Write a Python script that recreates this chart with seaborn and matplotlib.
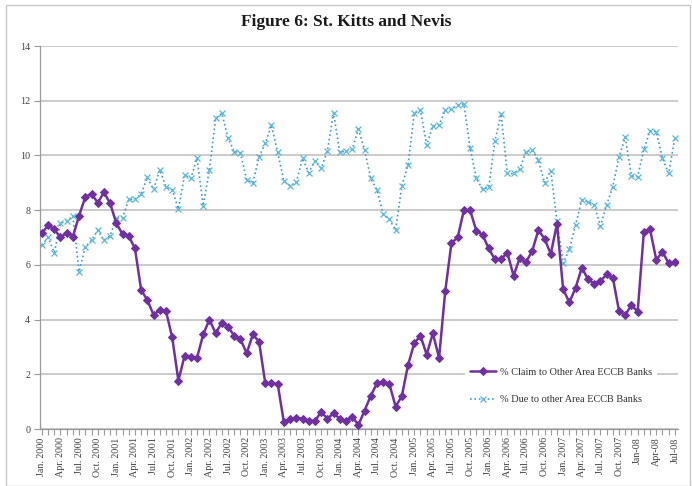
import matplotlib
matplotlib.use("Agg")
import matplotlib.pyplot as plt
from matplotlib.patches import Rectangle
import numpy as np
import pandas as pd
import seaborn as sns

# Monthly shares, Jan. 2000 through Jul. 2008
claim_other_eccb = [
    7.15, 7.45, 7.30, 7.00, 7.18, 7.03, 7.80, 8.48, 8.60, 8.27, 8.65, 8.25,
    7.52, 7.12, 7.05, 6.60, 5.08, 4.71, 4.17, 4.36, 4.31, 3.35, 1.77, 2.68,
    2.65, 2.60, 3.46, 4.00, 3.50, 3.89, 3.74, 3.40, 3.28, 2.77, 3.46, 3.19,
    1.67, 1.67, 1.64, 0.24, 0.37, 0.41, 0.38, 0.29, 0.29, 0.63, 0.38, 0.57,
    0.38, 0.29, 0.45, 0.15, 0.67, 1.22, 1.67, 1.73, 1.64, 0.82, 1.20, 2.34,
    3.13, 3.41, 2.72, 3.50, 2.60, 5.05, 6.80, 7.00, 8.00, 8.00, 7.25, 7.10,
    6.60, 6.20, 6.20, 6.45, 5.60, 6.25, 6.10, 6.50, 7.27, 6.95, 6.40, 7.50,
    5.10, 4.63, 5.16, 5.90, 5.47, 5.31, 5.41, 5.65, 5.53, 4.31, 4.17, 4.53,
    4.29, 7.21, 7.30, 6.18, 6.48, 6.05, 6.10,
]
due_other_eccb = [
    6.72, 7.00, 6.45, 7.52, 7.60, 7.78, 5.75, 6.66, 6.90, 7.27, 6.90, 7.07,
    7.70, 7.72, 8.39, 8.39, 8.59, 9.20, 8.76, 9.47, 8.85, 8.74, 8.04, 9.28,
    9.16, 9.89, 8.16, 9.47, 11.36, 11.54, 10.63, 10.14, 10.10, 9.10, 9.00, 9.95,
    10.44, 11.11, 10.11, 9.07, 8.89, 9.02, 9.89, 9.37, 9.80, 9.53, 10.16, 11.56,
    10.11, 10.16, 10.22, 10.96, 10.20, 9.16, 8.74, 7.86, 7.66, 7.27, 8.88, 9.65,
    11.54, 11.66, 10.38, 11.07, 11.11, 11.66, 11.69, 11.84, 11.88, 10.28, 9.16, 8.77,
    8.83, 10.53, 11.51, 9.34, 9.34, 9.50, 10.14, 10.20, 9.83, 9.00, 9.43, 7.60,
    6.05, 6.57, 7.46, 8.37, 8.31, 8.19, 7.42, 8.19, 8.86, 9.95, 10.66, 9.25,
    9.22, 10.22, 10.90, 10.87, 9.89, 9.34, 10.65,
]
quarter_labels = [
    "Jan. 2000", "Apr. 2000", "Jul. 2000", "Oct. 2000",
    "Jan. 2001", "Apr. 2001", "Jul. 2001", "Oct. 2001",
    "Jan. 2002", "Apr. 2002", "Jul. 2002", "Oct. 2002",
    "Jan. 2003", "Apr. 2003", "Jul. 2003", "Oct. 2003",
    "Jan. 2004", "Apr. 2004", "Jul. 2004", "Oct. 2004",
    "Jan. 2005", "Apr. 2005", "Jul. 2005", "Oct. 2005",
    "Jan. 2006", "Apr. 2006", "Jul. 2006", "Oct. 2006",
    "Jan. 2007", "Apr. 2007", "Jul. 2007", "Oct. 2007",
    "Jan-08", "Apr-08", "Jul-08",
]
series_names = ["% Claim to Other Area ECCB Banks", "% Due to other Area ECCB Banks"]
y_ticks = [0, 2, 4, 6, 8, 10, 12, 14]

month = np.arange(len(claim_other_eccb))
df = pd.DataFrame({"month": month, "claim": claim_other_eccb, "due": due_other_eccb})

sns.set_style("white")
plt.rcParams["font.family"] = ["Liberation Serif", "DejaVu Serif"]

W, H = 692, 486
fig = plt.figure(figsize=(W / 100, H / 100), dpi=100)
fig.patch.set_facecolor("white")

# light chart frame
fig.add_artist(Rectangle((6 / W, 0), (W - 8) / W, (H - 5) / H, transform=fig.transFigure,
                         fill=False, edgecolor="#C8C8C8", linewidth=1.0))

left, right, top, bottom = 40, 678, 46, 429
ax = fig.add_axes([left / W, 1 - bottom / H, (right - left) / W, (bottom - top) / H])

grid_c = "#BDBDBD"
for yv in y_ticks:
    ax.axhline(yv, color=grid_c, lw=1.1, zorder=0)

purple = "#7030A0"
aqua = "#3D9DC2"

sns.lineplot(data=df, x="month", y="claim", ax=ax, color=purple, lw=1.8,
             marker="D", markersize=4.2, markeredgecolor=purple, label=series_names[0], zorder=3)
sns.lineplot(data=df, x="month", y="due", ax=ax, color=aqua, lw=1.2, linestyle=":",
             marker="x", markersize=4.5, markeredgewidth=0.9, markeredgecolor="#5BB8D6",
             label=series_names[1], zorder=2)

ax.set_xlim(-0.3, len(month) - 0.5)
ax.set_ylim(0, 14)
ax.set_xlabel("")
ax.set_ylabel("")

ax.set_yticks(y_ticks)
ax.set_yticklabels([str(v) for v in y_ticks])
ax.set_xticks(month[::3])
ax.set_xticklabels(quarter_labels, rotation=90)
ax.set_xticks(month, minor=True)

ax.tick_params(axis="x", which="both", direction="out", length=4, width=0.8,
               color="#9A9A9A", labelsize=7.2, labelcolor="#404040", pad=2, bottom=True)
ax.tick_params(axis="y", direction="out", length=4, width=0.8, color="#9A9A9A",
               labelsize=7.2, labelcolor="#404040", pad=3, left=True)

for side in ["top", "right"]:
    ax.spines[side].set_visible(False)
for side in ["left", "bottom"]:
    ax.spines[side].set_color("#9A9A9A")
    ax.spines[side].set_linewidth(0.9)

leg = ax.legend(loc="center left", bbox_to_anchor=(460 / W, 1 - 386 / H),
                bbox_transform=fig.transFigure, frameon=True, fancybox=False,
                facecolor="white", edgecolor="none", framealpha=1.0,
                fontsize=7.4, labelspacing=1.8, handlelength=2.5, handletextpad=0.4,
                borderpad=0.5)
for txt in leg.get_texts():
    txt.set_color("#303030")

fig.text(0.5, 1 - 22 / H, "Figure 6: St. Kitts and Nevis", ha="center", va="center",
         fontsize=12.5, fontweight="bold", color="#1A1A1A")

fig.savefig("out.png", dpi=100, facecolor="white")
